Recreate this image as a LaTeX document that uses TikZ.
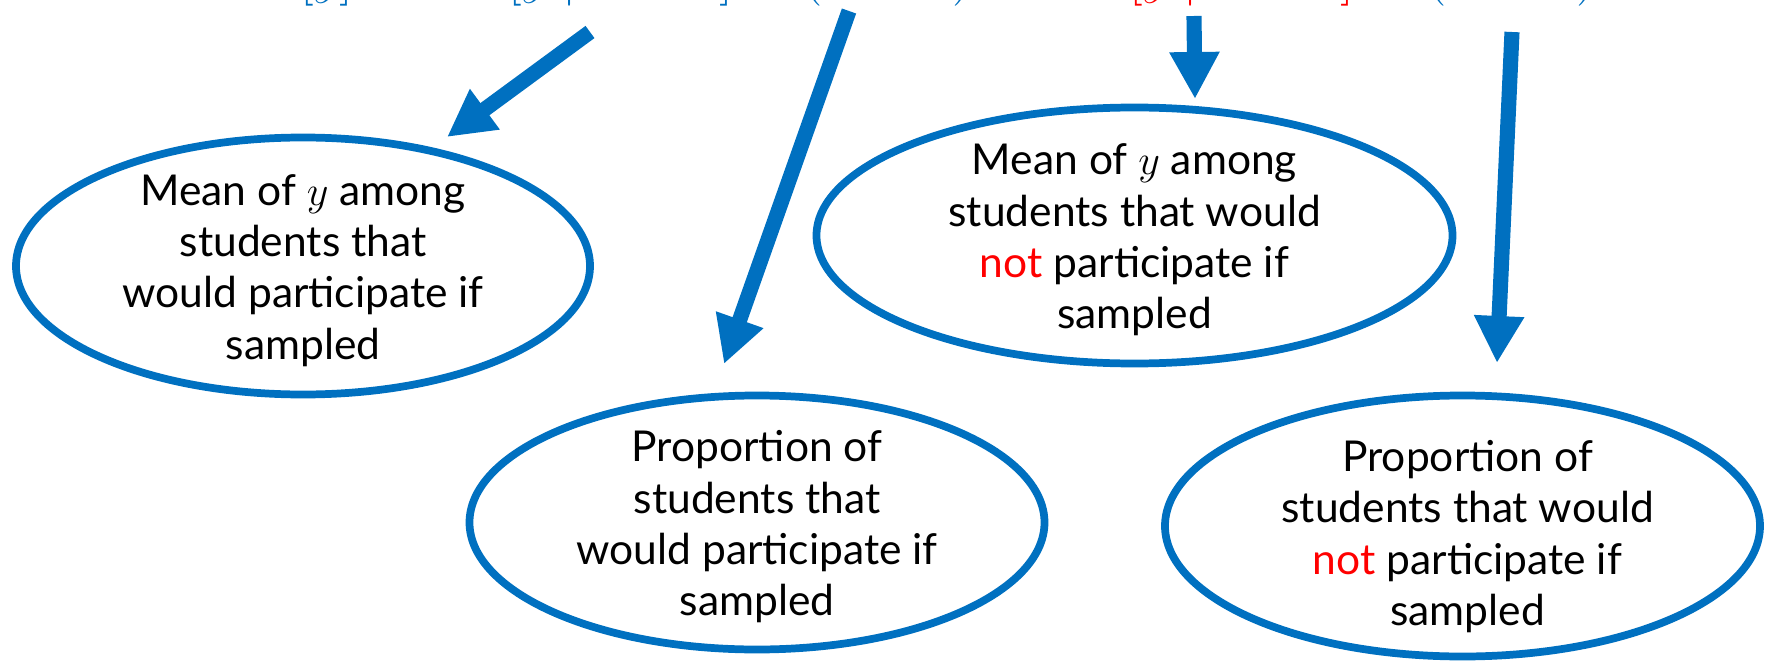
\documentclass[tikz,border=0pt]{standalone}
\usepackage{fontspec}
\setmainfont{Lato}
\usetikzlibrary{shapes.geometric,arrows.meta}
\definecolor{pblue}{HTML}{0070C0}
\definecolor{pred}{HTML}{FF0000}
\begin{document}
\begin{tikzpicture}[
    oval/.style={ellipse,draw=pblue,line width=2.2pt,inner sep=0pt},
    txt/.style={align=center,yshift=-0.45mm,font=\fontsize{12.1}{14.6}\selectfont},
    term/.style={anchor=base,text=pblue,inner sep=0pt,font=\fontsize{14.2}{16}\selectfont},
    fat/.style={draw=pblue,line width=4.3pt,-{Triangle[length=4.7mm,width=4.7mm]}}]
  \useasboundingbox (0,0) rectangle (17.66,6.69);
  % the decomposition, only its lower edge shows
  \node[term] (ey) at (3.07,6.76) {$E[y]$};
  \node[term] (eqs) at (4.20,6.76) {$=$};
  \node[term] (tmp) at (6.01,6.76) {$E[y\mid R=1]$};
  \node[term] (tpp) at (8.68,6.76) {$P(R=1)$};
  \node[term] (plus) at (10.40,6.76) {$+$};
  \node[term,text=pred] (tmn) at (12.22,6.76) {$E[y\mid R=0]$};
  \node[term] (tpn) at (14.92,6.76) {$P(R=0)$};

  \node[oval,minimum width=5.74cm,minimum height=2.57cm] (mp) at (3.03,4.03) {};
  \node[txt] at (mp) {Mean of $y$ among\\students that\\would participate if\\sampled};
  \node[oval,minimum width=5.75cm,minimum height=2.54cm] (pp) at (7.57,1.465) {};
  \node[txt] at (pp) {Proportion of\\students that\\would participate if\\sampled};
  \node[oval,minimum width=6.36cm,minimum height=2.56cm] (mn) at (11.345,4.335) {};
  \node[txt] at (mn) {Mean of $y$ among\\students that would\\\textcolor{pred}{not} participate if\\sampled};
  \node[oval,minimum width=5.95cm,minimum height=2.61cm] (pn) at (14.625,1.43) {};
  \node[txt] at ([shift={(0.05,-0.06)}]pn) {Proportion of\\students that would\\\textcolor{pred}{not} participate if\\sampled};

  \coordinate (mp-from) at (5.90,6.37);
  \coordinate (mp-to) at (4.47,5.32);
  \coordinate (pp-from) at (8.49,6.58);
  \coordinate (pp-to) at (7.24,3.05);
  \coordinate (mn-from) at (11.94,6.53);
  \coordinate (mn-to) at (11.95,5.70);
  \coordinate (pn-from) at (15.12,6.37);
  \coordinate (pn-to) at (14.97,3.06);
  \draw[fat] (mp-from) -- (mp-to);
  \draw[fat] (pp-from) -- (pp-to);
  \draw[fat] (mn-from) -- (mn-to);
  \draw[fat] (pn-from) -- (pn-to);
\end{tikzpicture}
\end{document}
